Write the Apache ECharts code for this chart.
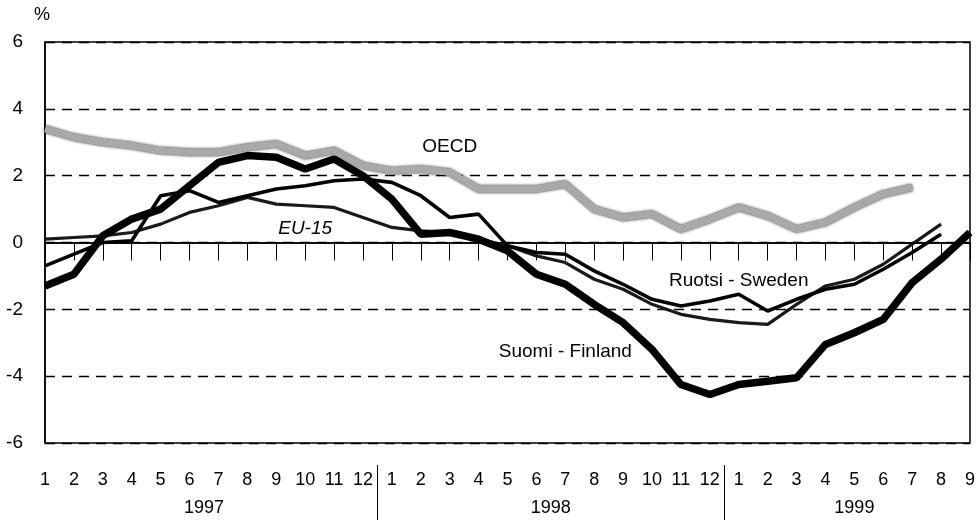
<!DOCTYPE html>
<html>
<head>
<meta charset="utf-8">
<script src="https://cdn.jsdelivr.net/npm/echarts@6/dist/echarts.min.js"></script>
<style>
  html, body { margin: 0; padding: 0; background: #fff; }
  #main { width: 978px; height: 520px; }
</style>
</head>
<body>
<div id="main"></div>
<script>
// month tick labels, 1/1997 .. 9/1999
var months = ['1','2','3','4','5','6','7','8','9','10','11','12',
              '1','2','3','4','5','6','7','8','9','10','11','12',
              '1','2','3','4','5','6','7','8','9'];
var years = ['1997', '1998', '1999'];
var yearStart = [0, 12, 24];   // first month index of each year
var yearEnd = [11, 23, 32];

// values, %
var oecd = [3.4, 3.15, 3.0, 2.9, 2.75, 2.7, 2.7, 2.85, 2.95, 2.6, 2.75, 2.3,
            2.15, 2.2, 2.1, 1.6, 1.6, 1.6, 1.75, 1.0, 0.75, 0.85, 0.4, 0.7,
            1.05, 0.8, 0.4, 0.6, 1.05, 1.45, 1.65];
var finland = [-1.3, -0.95, 0.2, 0.7, 1.0, 1.7, 2.4, 2.6, 2.55, 2.2, 2.5, 2.0,
               1.3, 0.25, 0.3, 0.1, -0.25, -0.95, -1.25, -1.85, -2.4, -3.2, -4.25, -4.55,
               -4.25, -4.15, -4.05, -3.05, -2.7, -2.3, -1.2, -0.5, 0.3];
var sweden = [-0.7, -0.35, 0.0, 0.05, 1.4, 1.55, 1.2, 1.4, 1.6, 1.7, 1.85, 1.9,
              1.8, 1.4, 0.75, 0.85, -0.1, -0.3, -0.35, -0.85, -1.25, -1.7, -1.9, -1.75,
              -1.55, -2.05, -1.7, -1.4, -1.25, -0.8, -0.3, 0.25];
var eu15 = [0.1, 0.15, 0.2, 0.3, 0.55, 0.9, 1.1, 1.35, 1.15, 1.1, 1.05, 0.75,
            0.45, 0.35, 0.3, 0.1, -0.1, -0.4, -0.6, -1.1, -1.4, -1.85, -2.15, -2.3,
            -2.4, -2.45, -1.85, -1.3, -1.1, -0.65, -0.05, 0.55];

// series labels and where they sit (month index, value)
var labels = [
  { text: 'OECD', at: [14.4, 2.86], italic: false },
  { text: 'EU-15', at: [9.45, 0.42], italic: true },
  { text: 'Ruotsi - Sweden', at: [23.6, -1.15], italic: false },
  { text: 'Suomi - Finland', at: [17.55, -3.28], italic: false }
];

var FONT = '"Liberation Sans", Arial, sans-serif';

var myChart = echarts.init(document.getElementById('main'));

var option = {
  animation: false,
  backgroundColor: '#fff',
  grid: {
    left: 45, right: 8, top: 42, bottom: 77,
    show: true, borderColor: '#000', borderWidth: 1.5
  },
  xAxis: {
    type: 'category',
    data: months,
    boundaryGap: false,
    axisLine: { lineStyle: { color: '#000', width: 1.5 } },
    axisTick: { show: true, length: 18, lineStyle: { color: '#000', width: 1 } },
    axisLabel: { interval: 0, margin: 28, fontSize: 18, color: '#000', fontFamily: FONT },
    splitLine: { show: false }
  },
  yAxis: {
    type: 'value',
    min: -6, max: 6, interval: 2,
    name: '%',
    nameLocation: 'end',
    nameGap: 18,
    nameTextStyle: { fontSize: 18, color: '#000', fontFamily: FONT, align: 'center', padding: [0, 6, 0, 0] },
    axisLine: { show: true, lineStyle: { color: '#000', width: 1.5 } },
    axisTick: { show: false },
    axisLabel: { fontSize: 19, color: '#000', margin: 22, fontFamily: FONT },
    splitLine: { show: true, lineStyle: { color: '#000', type: [10, 7], width: 1.3 } }
  },
  series: [
    {
      name: 'OECD', type: 'line', data: oecd, showSymbol: false, z: 2,
      lineStyle: { color: '#a9a9a9', width: 7, shadowColor: 'rgba(0,0,0,0.85)', shadowBlur: 3 },
      markLine: {
        silent: true, symbol: 'none', label: { show: false },
        lineStyle: { color: '#000', type: 'solid', width: 1.5 },
        data: [{ yAxis: 0 }]
      }
    },
    {
      name: 'EU-15', type: 'line', data: eu15, showSymbol: false, z: 3,
      lineStyle: { color: '#1a1a1a', width: 3.2 }
    },
    {
      name: 'Ruotsi - Sweden', type: 'line', data: sweden, showSymbol: false, z: 4,
      lineStyle: { color: '#000', width: 3.6 }
    },
    {
      name: 'Suomi - Finland', type: 'line', data: finland, showSymbol: false, z: 5,
      lineStyle: { color: '#000', width: 7.5 }
    }
  ]
};
myChart.setOption(option);

// year labels, year separators and series labels placed through the axes
var graphics = [];
var axisY = myChart.convertToPixel({ yAxisIndex: 0 }, -6);
for (var k = 0; k < years.length; k++) {
  var x0 = myChart.convertToPixel({ xAxisIndex: 0 }, yearStart[k]);
  var x1 = myChart.convertToPixel({ xAxisIndex: 0 }, yearEnd[k]);
  graphics.push({
    type: 'text', x: (x0 + x1) / 2, y: axisY + 65,
    style: { text: years[k], fontSize: 18, fontFamily: FONT, fill: '#000', align: 'center', verticalAlign: 'middle' }
  });
  if (k > 0) {
    var xp = myChart.convertToPixel({ xAxisIndex: 0 }, yearStart[k] - 1);
    var sx = Math.round((xp + x0) / 2) + 0.5;
    graphics.push({
      type: 'line', shape: { x1: sx, y1: axisY + 22, x2: sx, y2: 520 },
      style: { stroke: '#000', lineWidth: 1 }
    });
  }
}
labels.forEach(function (l) {
  var p = myChart.convertToPixel({ xAxisIndex: 0, yAxisIndex: 0 }, l.at);
  graphics.push({
    type: 'text', x: p[0], y: p[1], z: 10,
    style: {
      text: l.text, fontSize: 19, fontFamily: FONT, fill: '#000',
      fontStyle: l.italic ? 'italic' : 'normal',
      align: 'center', verticalAlign: 'middle'
    }
  });
});
myChart.setOption({ graphic: graphics });
</script>
</body>
</html>
